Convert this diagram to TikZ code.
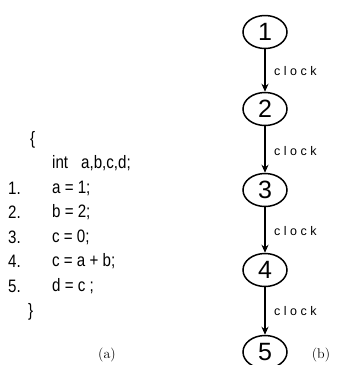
\documentclass[tikz,border=0pt]{standalone}
\usepackage{fontspec}
\setmainfont{Latin Modern Roman}
\newfontfamily\codefont[FakeStretch=0.84]{Liberation Sans}
\newfontfamily\numfont{Liberation Sans}
\newfontfamily\clockfont[LetterSpace=28]{Liberation Sans}
\usetikzlibrary{arrows.meta,shapes.geometric}
\begin{document}
\begin{tikzpicture}[x=1pt,y=-1pt,
  state/.style={ellipse,draw,line width=1.5pt,minimum width=44pt,minimum height=33pt,inner sep=0pt,font=\numfont\fontsize{25}{25}\selectfont},
  flow/.style={line width=1.5pt,-{Stealth[length=8pt,width=7pt]}},
  clk/.style={anchor=west,font=\clockfont\fontsize{12.5}{13}\selectfont,inner sep=0pt},
  code/.style={anchor=west,font=\codefont\fontsize{18}{18}\selectfont,inner sep=0pt},
  captxt/.style={font=\fontsize{14}{14}\selectfont,inner sep=0pt}]
\useasboundingbox (0,0) rectangle (343,365);
% code listing
\node[code] (lb) at (30,140) {\{};
\node[code] (decl) at (52,163.5) {int\hspace{13pt}a,b,c,d;};
\node[code] (n1) at (8,188) {1.};
\node[code] (s1) at (52,188) {a = 1;};
\node[code] (n2) at (8,212.5) {2.};
\node[code] (s2) at (52,212.5) {b = 2;};
\node[code] (n3) at (8,237) {3.};
\node[code] (s3) at (52,237) {c = 0;};
\node[code] (n4) at (8,261.5) {4.};
\node[code] (s4) at (52,261.5) {c = a + b;};
\node[code] (n5) at (8,286) {5.};
\node[code] (s5) at (52,286) {d = c ;};
\node[code] (rb) at (28,312) {\}};
\node[captxt] (capa) at (107,355) {(a)};
% graph
\node[state] (c1) at (265,32) {1};
\node[state] (c2) at (265,109) {2};
\node[state] (c3) at (265,190) {3};
\node[state] (c4) at (265,270) {4};
\node[state] (c5) at (265,352) {5};
\draw[flow] (c1) -- (c2);
\draw[flow] (c2) -- (c3);
\draw[flow] (c3) -- (c4);
\draw[flow] (c4) -- (c5);
\node[clk] (k1) at (274,71) {clock};
\node[clk] (k2) at (274,151) {clock};
\node[clk] (k3) at (274,231) {clock};
\node[clk] (k4) at (274,311) {clock};
\node[captxt] (capb) at (321,355) {(b)};
\end{tikzpicture}
\end{document}
